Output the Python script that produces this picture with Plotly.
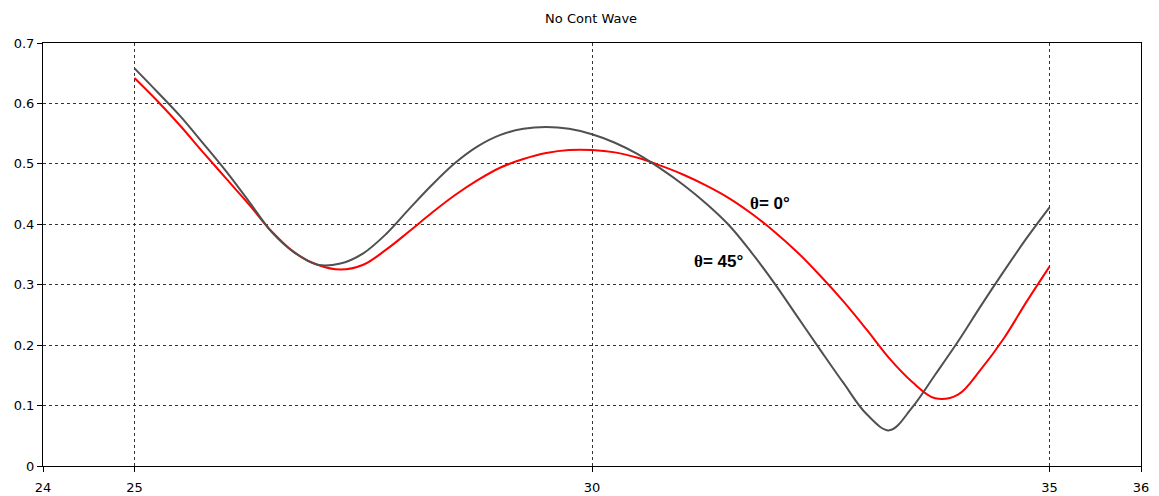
import plotly.graph_objects as go

x_vals = [25.00, 25.25, 25.50, 25.75, 26.00, 26.25, 26.50, 26.75, 27.00, 27.25,
          27.50, 27.75, 28.00, 28.25, 28.50, 28.75, 29.00, 29.25, 29.50, 29.75,
          30.00, 30.25, 30.50, 30.75, 31.00, 31.25, 31.50, 31.75, 32.00, 32.25,
          32.50, 32.75, 33.00, 33.25, 33.50, 33.75, 34.00, 34.25, 34.50, 34.75,
          35.00]

theta45 = [0.658, 0.619, 0.579, 0.534, 0.488, 0.438, 0.387, 0.353, 0.333, 0.335,
           0.352, 0.384, 0.425, 0.465, 0.501, 0.529, 0.548, 0.558, 0.561, 0.558,
           0.549, 0.535, 0.516, 0.492, 0.465, 0.434, 0.398, 0.352, 0.301, 0.246,
           0.191, 0.137, 0.086, 0.059, 0.097, 0.151, 0.206, 0.265, 0.322, 0.377,
           0.428]

theta0 = [0.642, 0.604, 0.563, 0.519, 0.476, 0.433, 0.388, 0.353, 0.333, 0.325,
          0.333, 0.358, 0.388, 0.419, 0.448, 0.473, 0.494, 0.508, 0.518, 0.523,
          0.523, 0.519, 0.510, 0.497, 0.482, 0.464, 0.443, 0.417, 0.387, 0.353,
          0.314, 0.272, 0.226, 0.178, 0.139, 0.112, 0.118, 0.160, 0.211, 0.272,
          0.330]

x_ticks = [24, 25, 30, 35, 36]
y_ticks = [0, 0.1, 0.2, 0.3, 0.4, 0.5, 0.6, 0.7]
y_tick_text = ["0", "0.1", "0.2", "0.3", "0.4", "0.5", "0.6", "0.7"]

labels = ["0°", "45°"]
label_x = [31.95, 31.38]
label_y = [0.435, 0.338]

fig = go.Figure()
fig.add_trace(go.Scatter(x=x_vals, y=theta0, mode="lines", name="θ= 0°",
                         line=dict(color="#ff0000", width=2, shape="spline", smoothing=1.0)))
fig.add_trace(go.Scatter(x=x_vals, y=theta45, mode="lines", name="θ= 45°",
                         line=dict(color="#505050", width=2, shape="spline", smoothing=1.0)))

for t, lx, ly in zip(labels, label_x, label_y):
    txt = ('<b><span style="font-family:Liberation Serif">θ</span>= ' + t + '</b>')
    fig.add_annotation(x=lx, y=ly, text=txt, showarrow=False,
                       font=dict(family="Liberation Sans", size=17, color="#000000"))

axis_common = dict(
    showline=True, linecolor="#000000", linewidth=1, mirror=True,
    showgrid=True, gridcolor="#333333", gridwidth=1, griddash="3px,3px",
    zeroline=False, ticks="outside", ticklen=5, tickcolor="#000000",
    automargin=False,
    tickfont=dict(family="DejaVu Sans", size=13, color="#000000"),
)

fig.update_layout(
    width=1159, height=496,
    margin=dict(l=43, r=18, t=43, b=30, autoexpand=False),
    paper_bgcolor="white", plot_bgcolor="white",
    showlegend=False,
    title=dict(text="No Cont Wave", x=0.51, xanchor="center", y=1 - 18 / 496, yanchor="middle",
               automargin=False,
               font=dict(family="DejaVu Sans", size=13, color="#000000")),
    xaxis=dict(range=[24, 36], tickvals=x_ticks, ticktext=[str(v) for v in x_ticks],
               ticklabelstandoff=4, **axis_common),
    yaxis=dict(range=[0, 0.7], tickvals=y_ticks, ticktext=y_tick_text, **axis_common),
)

fig.write_html("out.html", config={"displayModeBar": False},
               post_script="document.body.style.margin='0';document.body.style.overflow='hidden';")
